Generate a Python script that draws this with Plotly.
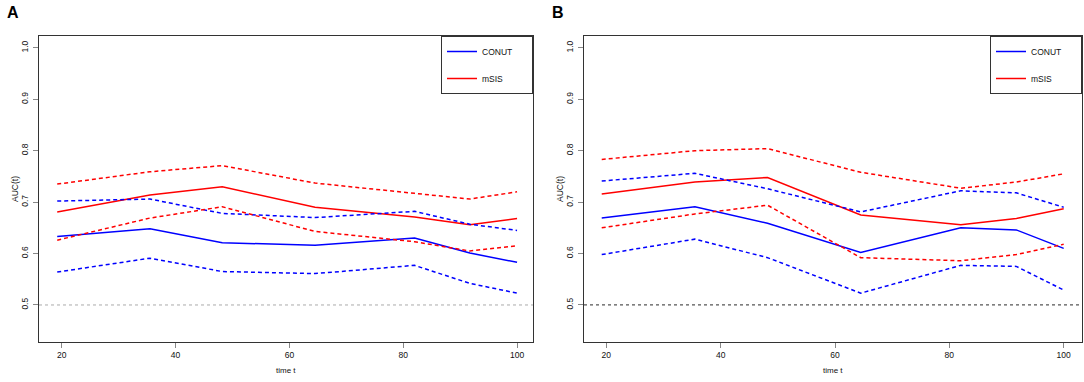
import plotly.graph_objects as go

W, H = 1084, 382

times = [19.2, 35.5, 48.2, 64.5, 82.0, 91.7, 100.0]

# Panel A
a_conut = [0.633, 0.648, 0.621, 0.616, 0.630, 0.601, 0.583]
a_conut_hi = [0.702, 0.706, 0.678, 0.670, 0.682, 0.657, 0.645]
a_conut_lo = [0.564, 0.591, 0.565, 0.561, 0.577, 0.542, 0.523]
a_msis = [0.681, 0.714, 0.730, 0.690, 0.671, 0.656, 0.668]
a_msis_hi = [0.735, 0.759, 0.771, 0.737, 0.717, 0.706, 0.720]
a_msis_lo = [0.626, 0.669, 0.691, 0.643, 0.623, 0.605, 0.615]

# Panel B
b_conut = [0.669, 0.691, 0.659, 0.602, 0.650, 0.646, 0.610]
b_conut_hi = [0.741, 0.756, 0.726, 0.681, 0.722, 0.718, 0.690]
b_conut_lo = [0.598, 0.628, 0.592, 0.523, 0.577, 0.575, 0.529]
b_msis = [0.716, 0.739, 0.748, 0.675, 0.656, 0.668, 0.687]
b_msis_hi = [0.783, 0.800, 0.804, 0.758, 0.727, 0.739, 0.755]
b_msis_lo = [0.650, 0.677, 0.694, 0.592, 0.586, 0.598, 0.618]

series_names = ["CONUT", "mSIS"]
x_ticks = [20, 40, 60, 80, 100]
y_ticks = [0.5, 0.6, 0.7, 0.8, 0.9, 1.0]
ref_level = 0.5

BLUE = "#0000FF"
RED = "#FF0000"
DASH = "4px,3px"
FONT = "Liberation Sans, Arial, Helvetica, sans-serif"
PAD = "\u00a0" * 6  # widens legend box like the reference

fig = go.Figure()

def add_panel(xa, ya, legend, tag, conut, chi, clo, msis, mhi, mlo):
    fig.add_trace(go.Scatter(x=times, y=conut, mode="lines", name=series_names[0] + PAD,
                             legendgroup=tag + "c",
                             line=dict(color=BLUE, width=1.5), xaxis=xa, yaxis=ya, legend=legend))
    fig.add_trace(go.Scatter(x=times, y=msis, mode="lines", name=series_names[1] + PAD,
                             legendgroup=tag + "m",
                             line=dict(color=RED, width=1.5), xaxis=xa, yaxis=ya, legend=legend))
    for arr, col in [(chi, BLUE), (clo, BLUE), (mhi, RED), (mlo, RED)]:
        fig.add_trace(go.Scatter(x=times, y=arr, mode="lines", showlegend=False,
                                 line=dict(color=col, width=1.5, dash=DASH),
                                 xaxis=xa, yaxis=ya))

add_panel("x", "y", "legend", "a", a_conut, a_conut_hi, a_conut_lo, a_msis, a_msis_hi, a_msis_lo)
add_panel("x2", "y2", "legend2", "b", b_conut, b_conut_hi, b_conut_lo, b_msis, b_msis_hi, b_msis_lo)

# domains from pixel positions
ydom = [1 - 342 / H, 1 - 36 / H]
xdomA = [39 / W, 533 / W]
xdomB = [584 / W, 1082 / W]

axis_common = dict(showgrid=False, zeroline=False, showline=True, mirror=True,
                   linecolor="#333333", linewidth=1, ticks="outside", ticklen=5,
                   tickcolor="#888888", tickwidth=1,
                   tickfont=dict(family=FONT, size=8.5, color="#111111"))

legend_common = dict(yanchor="top", xanchor="right", bordercolor="#333333", borderwidth=1,
                     bgcolor="white", font=dict(family=FONT, size=8.5),
                     tracegroupgap=8)

fig.update_layout(
    xaxis=dict(domain=xdomA, range=[16.0, 102.8], tickvals=x_ticks, anchor="y", **axis_common),
    yaxis=dict(domain=ydom, range=[0.428, 1.023], tickvals=y_ticks, tickangle=-90,
               tickformat=".1f", anchor="x", ticklabelstandoff=2, **axis_common),
    xaxis2=dict(domain=xdomB, range=[16.1, 103.2], tickvals=x_ticks, anchor="y2", **axis_common),
    yaxis2=dict(domain=ydom, range=[0.428, 1.023], tickvals=y_ticks, tickangle=-90,
                tickformat=".1f", anchor="x2", ticklabelstandoff=2, **axis_common),
    width=W, height=H,
    margin=dict(l=0, r=0, t=0, b=0),
    plot_bgcolor="white", paper_bgcolor="white",
    font=dict(family=FONT, size=9, color="#111111"),
    legend=dict(x=xdomA[1], y=ydom[1], **legend_common),
    legend2=dict(x=xdomB[1], y=ydom[1], **legend_common),
)

# reference line at 0.5
fig.add_shape(type="line", xref="x domain", yref="y", x0=0, x1=1, y0=ref_level, y1=ref_level,
              line=dict(color="#AAAAAA", width=1, dash="dot"))
fig.add_shape(type="line", xref="x2 domain", yref="y2", x0=0, x1=1, y0=ref_level, y1=ref_level,
              line=dict(color="#555555", width=1.2, dash="dot"))

# axis titles and panel labels
ann = []
for xd, lab in [(xdomA, "A"), (xdomB, "B")]:
    cx = (xd[0] + xd[1]) / 2
    ann.append(dict(text="time t", x=cx, y=1 - 370 / H, xref="paper", yref="paper",
                    xanchor="center", yanchor="middle",
                    showarrow=False, font=dict(size=8, family=FONT)))
    ann.append(dict(text="AUC(t)", x=xd[0] - 24 / W, y=(ydom[0] + ydom[1]) / 2,
                    xref="paper", yref="paper", showarrow=False, textangle=-90,
                    xanchor="center", yanchor="middle",
                    font=dict(size=8.5, family=FONT)))
    ann.append(dict(text="<b>" + lab + "</b>", x=xd[0] - 34 / W, y=1 - 12 / H,
                    xref="paper", yref="paper", showarrow=False, xanchor="left",
                    yanchor="middle",
                    font=dict(size=16, family=FONT, color="black")))
fig.update_layout(annotations=ann)

fig.write_html("out.html", config={"displayModeBar": False},
               post_script="document.body.style.margin='0';document.body.style.overflow='hidden';")
